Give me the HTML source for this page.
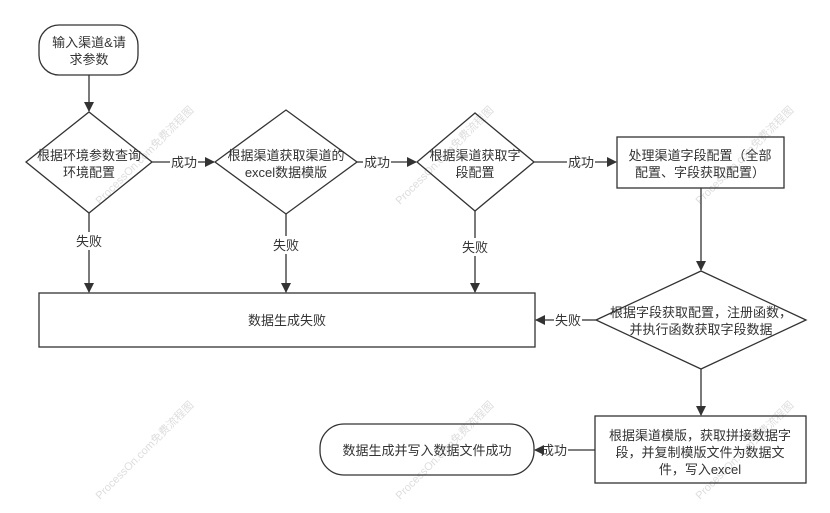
<!DOCTYPE html>
<html><head><meta charset="utf-8"><style>
body{margin:0;background:#fff}
svg text{font-family:"Liberation Sans","Noto Sans CJK SC",sans-serif;font-size:13px;fill:#333}
.w{font-size:11px;fill:#ddd}
</style></head><body>
<svg width="830" height="508" viewBox="0 0 830 508" xmlns="http://www.w3.org/2000/svg">
<defs><marker id="a" markerWidth="10" markerHeight="10" refX="9" refY="5" orient="auto" markerUnits="userSpaceOnUse"><path d="M0,0 L10,5 L0,10 z" fill="#333"/></marker></defs>
<g class="wm">
<text class="w" transform="translate(100,205) rotate(-45)">ProcessOn.com免费流程图</text>
<text class="w" transform="translate(400,205) rotate(-45)">ProcessOn.com免费流程图</text>
<text class="w" transform="translate(700,205) rotate(-45)">ProcessOn.com免费流程图</text>
<text class="w" transform="translate(100,500) rotate(-45)">ProcessOn.com免费流程图</text>
<text class="w" transform="translate(400,500) rotate(-45)">ProcessOn.com免费流程图</text>
<text class="w" transform="translate(700,500) rotate(-45)">ProcessOn.com免费流程图</text>
</g>
<g fill="none" stroke="#333" stroke-width="1.3">
<rect x="39" y="25" width="99" height="50" rx="20"/>
<path d="M26,162 L89,112 L152,162 L89,213 Z"/>
<path d="M215,162 L286,110 L357,162 L286,214 Z"/>
<path d="M417,162 L475,113 L534,162 L475,211 Z"/>
<rect x="617" y="137" width="167" height="51"/>
<path d="M596,320 L701,271 L806,320 L701,369 Z"/>
<rect x="39" y="293" width="496" height="54"/>
<rect x="595" y="416" width="211" height="67"/>
<rect x="320" y="424" width="214" height="51" rx="24"/>
</g>
<g stroke="#333" stroke-width="1.3" fill="none">
<line x1="89" y1="75" x2="89" y2="111" marker-end="url(#a)"/>
<line x1="152" y1="162" x2="170" y2="162"/><line x1="198" y1="162" x2="214" y2="162" marker-end="url(#a)"/>
<line x1="357" y1="162" x2="363" y2="162"/><line x1="391" y1="162" x2="416" y2="162" marker-end="url(#a)"/>
<line x1="534" y1="162" x2="567" y2="162"/><line x1="595" y1="162" x2="616" y2="162" marker-end="url(#a)"/>
<line x1="89" y1="213" x2="89" y2="232"/><line x1="89" y1="250" x2="89" y2="292" marker-end="url(#a)"/>
<line x1="286" y1="214" x2="286" y2="236"/><line x1="286" y1="254" x2="286" y2="292" marker-end="url(#a)"/>
<line x1="475" y1="211" x2="475" y2="238"/><line x1="475" y1="256" x2="475" y2="292" marker-end="url(#a)"/>
<line x1="701" y1="188" x2="701" y2="270" marker-end="url(#a)"/>
<line x1="596" y1="320" x2="582" y2="320"/><line x1="554" y1="320" x2="536" y2="320" marker-end="url(#a)"/>
<line x1="701" y1="369" x2="701" y2="415" marker-end="url(#a)"/>
<line x1="595" y1="450" x2="568" y2="450"/><line x1="540" y1="450" x2="535" y2="450" marker-end="url(#a)"/>
</g>
<g text-anchor="middle">
<text x="89" y="47">输入渠道&amp;请</text><text x="89" y="64">求参数</text>
<text x="89" y="160">根据环境参数查询</text><text x="89" y="177">环境配置</text>
<text x="286" y="160">根据渠道获取渠道的</text><text x="286" y="177">excel数据模版</text>
<text x="475" y="160">根据渠道获取字</text><text x="475" y="177">段配置</text>
<text x="700" y="160">处理渠道字段配置（全部</text><text x="700" y="177">配置、字段获取配置）</text>
<text x="701" y="317">根据字段获取配置，注册函数，</text><text x="701" y="334">并执行函数获取字段数据</text>
<text x="287" y="325">数据生成失败</text>
<text x="700" y="440">根据渠道模版，获取拼接数据字</text><text x="700" y="457">段，并复制模版文件为数据文</text><text x="700" y="474">件，写入excel</text>
<text x="427" y="455">数据生成并写入数据文件成功</text>
<text x="184" y="167">成功</text><text x="377" y="167">成功</text><text x="581" y="167">成功</text>
<text x="89" y="246">失败</text><text x="286" y="250">失败</text><text x="475" y="252">失败</text>
<text x="568" y="325">失败</text><text x="554" y="455">成功</text>
</g>
</svg>
</body></html>
